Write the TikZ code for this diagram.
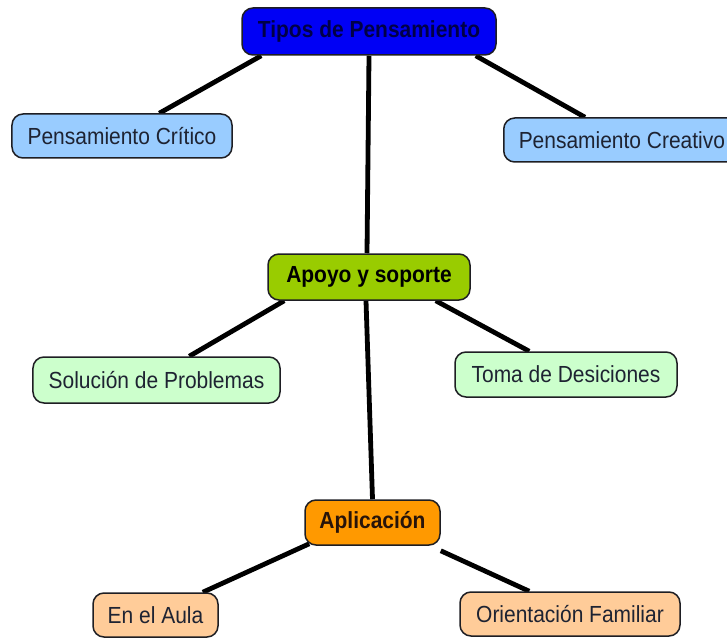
\documentclass[tikz,border=0pt]{standalone}
\usepackage{fontspec}
\setmainfont{Liberation Sans}[FakeStretch=0.9]
\usetikzlibrary{calc,backgrounds}
\definecolor{topblue}{RGB}{0,0,245}
\definecolor{topblueText}{RGB}{0,0,70}
\definecolor{lightblue}{RGB}{153,204,255}
\definecolor{midgreen}{RGB}{153,204,0}
\definecolor{lightgreen}{RGB}{204,255,204}
\definecolor{orangebox}{RGB}{255,153,0}
\definecolor{peach}{RGB}{255,204,153}
\definecolor{boxborder}{RGB}{30,30,35}
\definecolor{darktext}{RGB}{30,35,50}
\tikzset{
  box/.style={draw=boxborder, line width=1.5bp, rounded corners=11bp, inner sep=0pt,
    font=\fontsize{23.3bp}{27bp}\selectfont, text=darktext},
  bbox/.style={box, font=\fontsize{23.3bp}{27bp}\selectfont\bfseries},
  link/.style={line width=4.8bp, black},
}
\begin{document}
\begin{tikzpicture}[x=1bp,y=-1bp]
\useasboundingbox (0,0) rectangle (727,638);
\node[bbox, fill=topblue, text=topblueText, minimum width=254bp, minimum height=47bp] (tipos) at (369,31.5) {Tipos de Pensamiento};
\node[box, fill=lightblue, minimum width=220bp, minimum height=44bp] (critico) at (122,136) {Pensamiento Crítico};
\node[box, fill=lightblue, minimum height=44bp, anchor=west, inner xsep=15bp] (creativo) at (503,140) {Pensamiento Creativo};
\node[bbox, fill=midgreen, text=black, minimum width=202bp, minimum height=46bp] (apoyo) at (369,277) {Apoyo y soporte};
\node[box, fill=lightgreen, minimum width=247bp, minimum height=46bp] (solucion) at (156.5,380) {Solución de Problemas};
\node[box, fill=lightgreen, minimum width=222bp, minimum height=45bp] (toma) at (566,374.5) {Toma de Desiciones};
\node[bbox, fill=orangebox, text={rgb,255:red,40;green,20;blue,10}, minimum width=135bp, minimum height=45bp] (aplicacion) at (372.5,522.5) {Aplicación};
\node[box, fill=peach, minimum width=125bp, minimum height=44bp] (aula) at (155.5,615) {En el Aula};
\node[box, fill=peach, minimum width=220bp, minimum height=44bp] (orientacion) at (570,614) {Orientación Familiar};
\begin{pgfonlayer}{background}
\draw[link] ([xshift=20bp]tipos.south west) -- ([xshift=148bp]critico.north west);
\draw[link] ([xshift=-21bp]tipos.south east) -- ([xshift=82bp]creativo.north west);
\draw[link] (tipos.south) -- ([xshift=-2bp]apoyo.north);
\draw[link] ([xshift=17bp]apoyo.south west) -- ([xshift=157bp]solucion.north west);
\draw[link] ([xshift=-35bp]apoyo.south east) -- ([xshift=75bp]toma.north west);
\draw[link] ([xshift=-3bp]apoyo.south) -- (aplicacion.north);
\draw[link] ([xshift=5bp,yshift=2bp]aplicacion.south west) -- ([xshift=-16bp]aula.north east);
\draw[link] ([yshift=-5bp]aplicacion.south east) -- ([xshift=70bp]orientacion.north west);
\end{pgfonlayer}
\end{tikzpicture}
\end{document}
